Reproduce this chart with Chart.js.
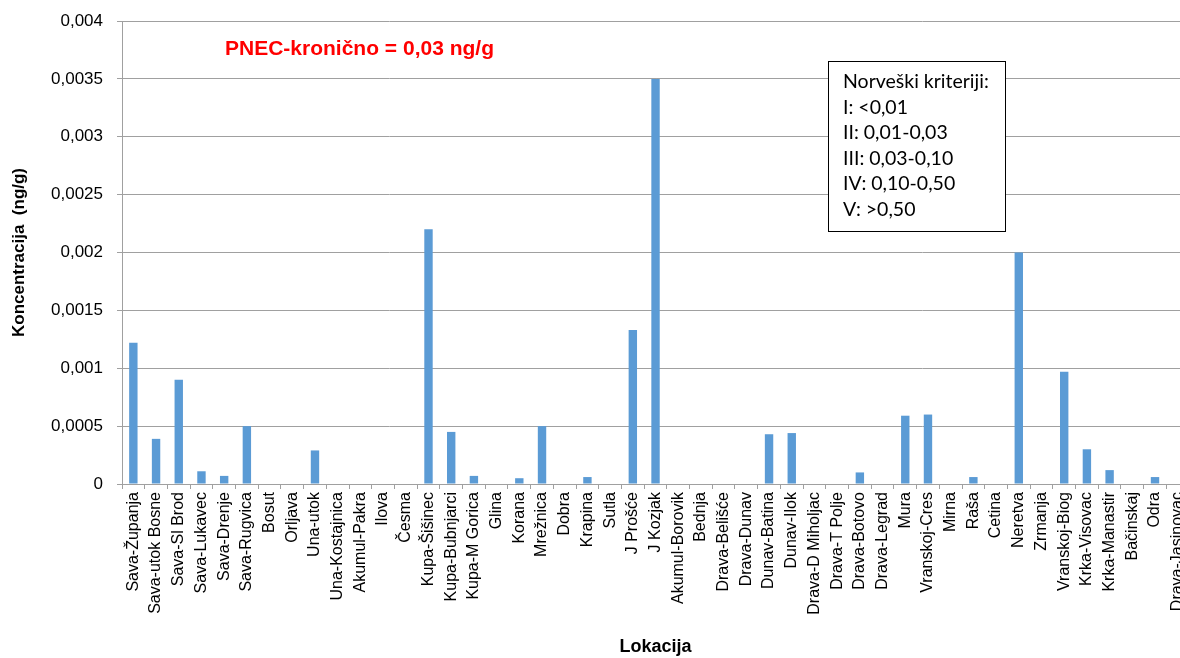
<!DOCTYPE html>
<html>
<head>
<meta charset="utf-8">
<script src="https://cdn.jsdelivr.net/npm/chart.js@4/dist/chart.umd.min.js"></script>
<style>
  html, body { margin: 0; padding: 0; background: #fff; overflow: hidden; }
  #wrap { width: 1200px; height: 658px; }
</style>
</head>
<body>
<div id="wrap"><canvas id="chart" width="1200" height="658"></canvas></div>
<script>
// locations along the x axis
const categories = [
  'Sava-Županja', 'Sava-utok Bosne', 'Sava-Sl Brod', 'Sava-Lukavec', 'Sava-Drenje', 'Sava-Rugvica',
  'Bosut', 'Orljava', 'Una-utok', 'Una-Kostajnica', 'Akumul-Pakra', 'Ilova', 'Česma',
  'Kupa-Šišinec', 'Kupa-Bubnjarci', 'Kupa-M Gorica', 'Glina', 'Korana', 'Mrežnica', 'Dobra',
  'Krapina', 'Sutla', 'J Prošće', 'J Kozjak', 'Akumul-Borovik', 'Bednja', 'Drava-Belišće',
  'Drava-Dunav', 'Dunav-Batina', 'Dunav-Ilok', 'Drava-D Miholjac', 'Drava-T Polje', 'Drava-Botovo',
  'Drava-Legrad', 'Mura', 'Vranskoj-Cres', 'Mirna', 'Raša', 'Cetina', 'Neretva', 'Zrmanja',
  'Vranskoj-Biog', 'Krka-Visovac', 'Krka-Manastir', 'Bačinskaj', 'Odra', 'Drava-Jasinovac'
];

// concentration (ng/g) per location
const values = [
  0.00122, 0.00039, 0.0009, 0.00011, 0.00007, 0.0005,
  0, 0, 0.00029, 0, 0, 0, 0,
  0.0022, 0.00045, 0.00007, 0, 0.00005, 0.0005, 0,
  0.00006, 0, 0.00133, 0.0035, 0, 0, 0,
  0, 0.00043, 0.00044, 0, 0, 0.0001,
  0, 0.00059, 0.0006, 0, 0.00006, 0, 0.002, 0,
  0.00097, 0.0003, 0.00012, 0, 0.00006, 0
];

const yTickLabels = ['0', '0,0005', '0,001', '0,0015', '0,002', '0,0025', '0,003', '0,0035', '0,004'];

const pnecText = 'PNEC-kronično = 0,03 ng/g';
const criteria = ['Norveški kriteriji:', 'I: <0,01', 'II: 0,01-0,03', 'III: 0,03-0,10', 'IV: 0,10-0,50', 'V: >0,50'];

const gridColor = '#A0A0A0';

// red note and the criteria box
const notes = {
  id: 'notes',
  afterDraw(chart) {
    const ctx = chart.ctx;
    ctx.save();
    ctx.fillStyle = '#FF0000';
    ctx.font = 'bold 21px "Liberation Sans", Arial, sans-serif';
    ctx.textBaseline = 'alphabetic';
    ctx.fillText(pnecText, 225, 55);

    ctx.fillStyle = '#fff';
    ctx.fillRect(828.5, 61.5, 177, 170);
    ctx.strokeStyle = '#000';
    ctx.lineWidth = 1;
    ctx.strokeRect(828.5, 61.5, 177, 170);
    ctx.fillStyle = '#000';
    ctx.font = '19.5px Lato, "Open Sans", sans-serif';
    criteria.forEach(function(line, i) {
      ctx.fillText(line, 843, 88 + i * 25.6);
    });
    ctx.restore();
  }
};

new Chart(document.getElementById('chart'), {
  type: 'bar',
  data: {
    labels: categories,
    datasets: [{
      label: 'Koncentracija',
      data: values,
      backgroundColor: '#5B9BD5',
      categoryPercentage: 1,
      barPercentage: 0.37
    }]
  },
  options: {
    responsive: false,
    animation: false,
    layout: { padding: { top: 21, right: 8, bottom: 0, left: 0 } },
    plugins: {
      legend: { display: false },
      tooltip: { enabled: false }
    },
    scales: {
      x: {
        grid: { drawOnChartArea: false, drawTicks: true, tickLength: 5, color: gridColor, offset: true },
        border: { display: true, color: gridColor },
        ticks: {
          autoSkip: false,
          minRotation: 90,
          maxRotation: 90,
          padding: 3,
          color: '#000',
          font: { family: '"Liberation Sans", Arial, sans-serif', size: 16 }
        },
        title: {
          display: true,
          text: 'Lokacija',
          color: '#000',
          padding: { top: 0, bottom: 0 },
          font: { family: '"Liberation Sans", Arial, sans-serif', size: 18, weight: 'bold' }
        },
        afterFit: function(scale) { scale.height = 174; }
      },
      y: {
        min: 0,
        max: 0.004,
        ticks: {
          stepSize: 0.0005,
          padding: 14,
          color: '#000',
          font: { family: '"Liberation Sans", Arial, sans-serif', size: 17 },
          callback: function(v, i) { return yTickLabels[i]; }
        },
        grid: { color: gridColor, tickLength: 5 },
        border: { display: true, color: gridColor },
        title: {
          display: true,
          text: 'Koncentracija  (ng/g)',
          color: '#000',
          padding: { top: 9, bottom: 0 },
          font: { family: '"Liberation Sans", Arial, sans-serif', size: 17, weight: 'bold' }
        },
        afterFit: function(scale) {
          scale.width = 122;
          scale.paddingTop = 0;
        }
      }
    }
  },
  plugins: [notes]
});
</script>
</body>
</html>
